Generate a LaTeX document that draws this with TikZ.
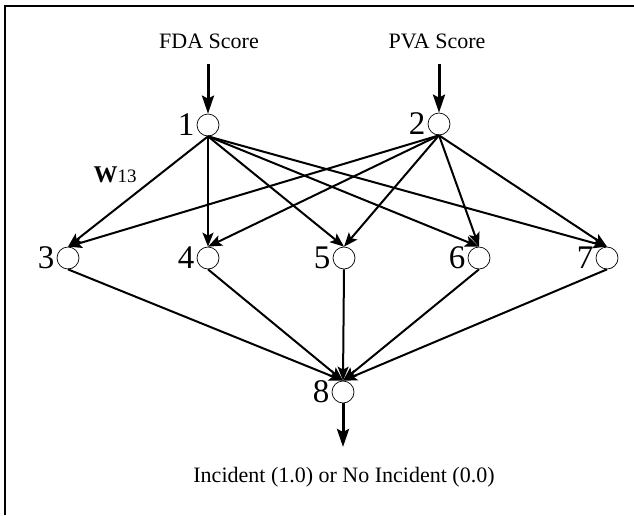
\documentclass[tikz,border=0pt]{standalone}
\usepackage{fontspec}
\setmainfont{Liberation Serif}
\usetikzlibrary{arrows.meta,positioning}
\begin{document}
\begin{tikzpicture}[x=1pt,y=-1pt,
  neuron/.style={circle, draw, line width=0.7pt, minimum size=22pt, inner sep=0pt},
  numlbl/.style={font=\fontsize{33}{33}\selectfont, inner sep=0pt, anchor=east},
  txt/.style={font=\fontsize{22}{22}\selectfont, inner sep=0pt, anchor=base},
  edge/.style={line width=2pt, -{Stealth[length=14pt,width=11pt,inset=3pt]}},
  ioarrow/.style={line width=3pt, -{Stealth[length=18pt,width=12pt,inset=3pt]}}]
\useasboundingbox (0,0) rectangle (634,515);
\draw[line width=1.4pt] (5,515) -- (5,6) -- (634,6);
% neurons
\node[neuron] (n1) at (208,125) {};
\node[neuron] (n2) at (439,124) {};
\node[neuron] (n3) at (68,258) {};
\node[neuron] (n4) at (208,258) {};
\node[neuron] (n5) at (344,258) {};
\node[neuron] (n6) at (479,258) {};
\node[neuron] (n7) at (607,258) {};
\node[neuron] (n8) at (343,392) {};
% number labels
\node[numlbl, left=2pt of n1] (l1) {1};
\node[numlbl, left=2pt of n2] (l2) {2};
\node[numlbl, left=2pt of n3] (l3) {3};
\node[numlbl, left=2pt of n4] (l4) {4};
\node[numlbl, left=2pt of n5] (l5) {5};
\node[numlbl, left=2pt of n6] (l6) {6};
\node[numlbl, left=2pt of n7] (l7) {7};
\node[numlbl, left=2pt of n8] (l8) {8};
% texts
\node[txt] (fda) at (209,48) {FDA Score};
\node[txt] (pva) at (437,48) {PVA Score};
\node[txt] (out) at (344,482) {Incident (1.0) or No Incident (0.0)};
\node[inner sep=0pt, anchor=base] (w13) at (115,182) {\fontsize{24}{24}\selectfont\textbf{W}\fontsize{19}{19}\selectfont 13};
% input / output
\coordinate (in1) at (208,64);
\coordinate (in2) at (439,64);
\coordinate (o8) at (343,447);
\draw[ioarrow] (in1) -- (n1.north);
\draw[ioarrow] (in2) -- (n2.north);
\draw[ioarrow] (n8.south) -- (o8);
% layer 1 -> hidden
\foreach \t in {3,4,5,6,7} {
  \draw[edge] (n1.south) -- (n\t.north);
  \draw[edge] (n2.south) -- (n\t.north);
}
% hidden -> output
\foreach \s in {3,4,5,6,7} {
  \draw[edge] (n\s.south) -- (n8.north);
}
\end{tikzpicture}
\end{document}
